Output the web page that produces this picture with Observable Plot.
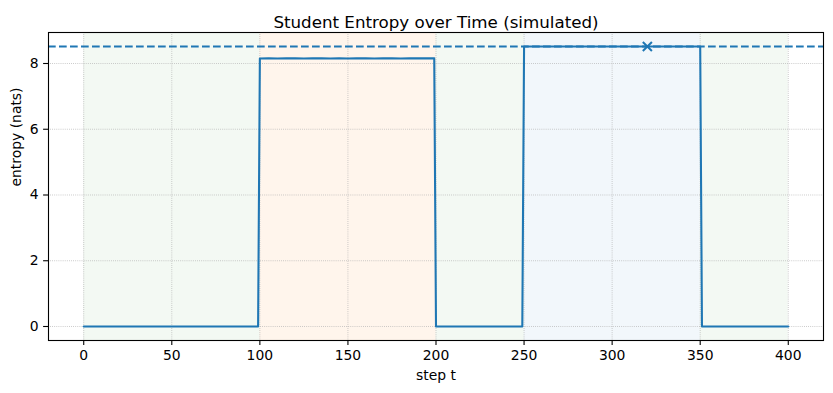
<!DOCTYPE html>
<html>
<head>
<meta charset="utf-8">
<script src="https://cdn.jsdelivr.net/npm/d3@7"></script>
<script src="https://cdn.jsdelivr.net/npm/@observablehq/plot@0.6"></script>
<style>
  html, body { margin: 0; padding: 0; background: white; }
</style>
</head>
<body>
<div id="chart"></div>
<script>
// Breakpoints of the entropy trace (step t, entropy in nats)
const stepT   = [0, 99, 100, 105, 110, 115, 120, 125, 130, 135, 140, 145, 150, 155, 160, 165, 170, 175, 180, 185, 190, 195, 199, 200, 249, 250, 350, 351, 400];
const entropy = [0, 0, 8.15, 8.155, 8.15, 8.16, 8.155, 8.15, 8.155, 8.16, 8.15, 8.155, 8.15, 8.16, 8.155, 8.15, 8.16, 8.155, 8.15, 8.155, 8.16, 8.155, 8.16, 0, 0, 8.515, 8.515, 0, 0];

// Shaded phases
const phaseStart = [0, 100, 200, 250, 350];
const phaseEnd   = [100, 200, 250, 350, 400];
const phaseColor = ["#2ca02c", "#ff7f0e", "#2ca02c", "#1f77b4", "#2ca02c"];
const phaseAlpha = [0.06, 0.08, 0.06, 0.06, 0.06];

// Reference max entropy and marked point
const maxEntropy = [8.517];
const markStep = [320];
const markValue = [8.517];

const xTicks = [0, 50, 100, 150, 200, 250, 300, 350, 400];
const yTicks = [0, 2, 4, 6, 8];

const phases = phaseStart.map((s, i) => ({ x1: s, x2: phaseEnd[i], c: phaseColor[i], a: phaseAlpha[i] }));
const rows = stepT.map((t, i) => ({ t, h: entropy[i] }));
const marks = markStep.map((t, i) => ({ t, h: markValue[i] }));

const C0 = "#1f77b4";

const chart = Plot.plot({
  width: 833,
  height: 393,
  marginTop: 32,
  marginBottom: 53,
  marginLeft: 48,
  marginRight: 10,
  x: { domain: [-20, 420] },
  y: { domain: [-0.426, 8.943] },
  style: { fontFamily: "DejaVu Sans", fontSize: "13.9px", background: "white", color: "black" },
  marks: [
    Plot.rect(phases, { x1: "x1", x2: "x2", fill: d => d.c, fillOpacity: d => d.a }),
    Plot.gridX(xTicks, { stroke: "#b0b0b0", strokeOpacity: 1, strokeWidth: 0.8, strokeDasharray: "0.8,1.3" }),
    Plot.gridY(yTicks, { stroke: "#b0b0b0", strokeOpacity: 1, strokeWidth: 0.8, strokeDasharray: "0.8,1.3" }),
    Plot.ruleY(maxEntropy, { stroke: C0, strokeWidth: 2.08, strokeDasharray: "7.7,3.3" }),
    Plot.line(rows, { x: "t", y: "h", stroke: C0, strokeWidth: 2.08 }),
    Plot.dot(marks, { x: "t", y: "h", symbol: "times", r: 4.2, stroke: C0, strokeWidth: 2 }),
    Plot.frame({ stroke: "black", strokeWidth: 1.1 }),
    Plot.axisX({ ticks: xTicks, tickSize: 4.9, tickPadding: 4.9, tickFormat: d => String(d), label: null, fontSize: 13.9, strokeWidth: 1.1 }),
    Plot.axisY({ ticks: yTicks, tickSize: 4.9, tickPadding: 4.9, tickFormat: d => String(d), label: null, fontSize: 13.9, strokeWidth: 1.1 }),
    Plot.text(["Student Entropy over Time (simulated)"], { frameAnchor: "top", dy: -16.5, fontSize: 16.7, fill: "black" }),
    Plot.text(["step t"], { frameAnchor: "bottom", dy: 39, fontSize: 13.9, fill: "black" }),
    Plot.text(["entropy (nats)"], { frameAnchor: "left", dx: -32, rotate: -90, fontSize: 13.9, fill: "black" })
  ]
});
document.getElementById("chart").appendChild(chart);
</script>
</body>
</html>
